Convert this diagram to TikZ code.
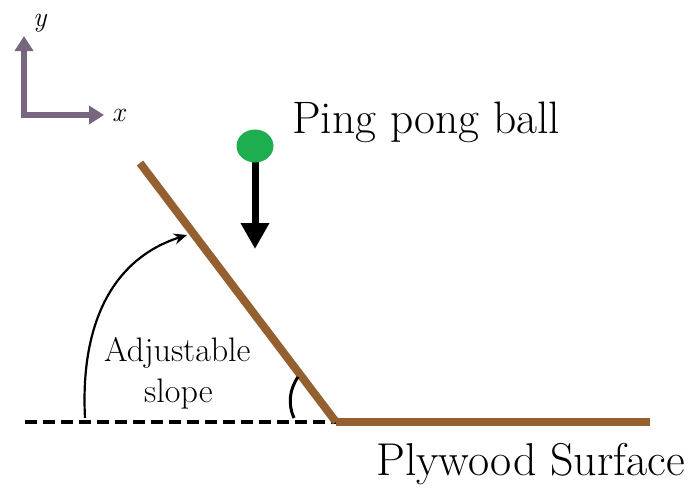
\documentclass[tikz,border=0pt]{standalone}
\usetikzlibrary{arrows.meta,shapes.geometric}
\definecolor{axiscol}{HTML}{76667E}
\definecolor{wood}{HTML}{95602F}
\definecolor{ballgreen}{HTML}{1FAE4F}
\begin{document}
\begin{tikzpicture}[x=1pt,y=-1pt,
  axisarrow/.style={draw=axiscol,line width=5.5pt,-{Triangle[width=18pt,length=15pt]}},
  board/.style={draw=wood,line width=8pt},
  lbl/.style={inner sep=0pt,anchor=base west},
]
\useasboundingbox (0,0) rectangle (691,488);
% axes
\coordinate (o) at (24,115);
\coordinate (ytip) at (24,36);
\coordinate (xtip) at (104,115);
\draw[axisarrow] ([yshift=2.75pt]o) -- (ytip);
\draw[axisarrow] ([xshift=-2.75pt]o) -- (xtip);
\node[lbl,font=\fontsize{28}{32}\selectfont\itshape] (ylab) at (33,26) {y};
\node[lbl,font=\fontsize{28}{32}\selectfont\itshape] (xlab) at (112,121) {x};
% ball
\coordinate (fstart) at (255,150);
\coordinate (ftip) at (255,249);
\draw[line width=7pt,-{Triangle[width=27pt,length=26pt]}] (fstart) -- (ftip);
\node[ellipse,fill=ballgreen,minimum width=37pt,minimum height=33pt,inner sep=0pt] (ball) at (255,146) {};
\node[lbl,font=\fontsize{45.5}{50}\selectfont] (ping) at (292,133) {Ping pong ball};
% boards
\coordinate (top) at (140,163);
\coordinate (hinge) at (336,422);
\coordinate (right) at (650,422);
\coordinate (left) at (25,422);
\draw[line width=4pt,dash pattern=on 12pt off 6pt] (left) -- (hinge);
\draw[board] (top) -- (hinge);
\draw[board] (hinge) -- (right);
% curved arrow
\coordinate (cs) at (85,418);
\coordinate (ce) at (187,235);
\draw[line width=2.2pt,-{Stealth[width=11pt,length=13pt]}] (cs) .. controls (80,320) and (115,258) .. (ce);
% angle mark
\coordinate (a1) at (298,377);
\coordinate (a2) at (294,418);
\draw[line width=3pt] (a1) .. controls (289,390) and (288,405) .. (a2);
\node[lbl,font=\fontsize{34}{38}\selectfont] (adj) at (104,361) {Adjustable};
\node[lbl,font=\fontsize{34}{38}\selectfont] (slope) at (144,402) {slope};
\node[lbl,font=\fontsize{46}{50}\selectfont] (ply) at (376,475) {Plywood Surface};
\end{tikzpicture}
\end{document}
